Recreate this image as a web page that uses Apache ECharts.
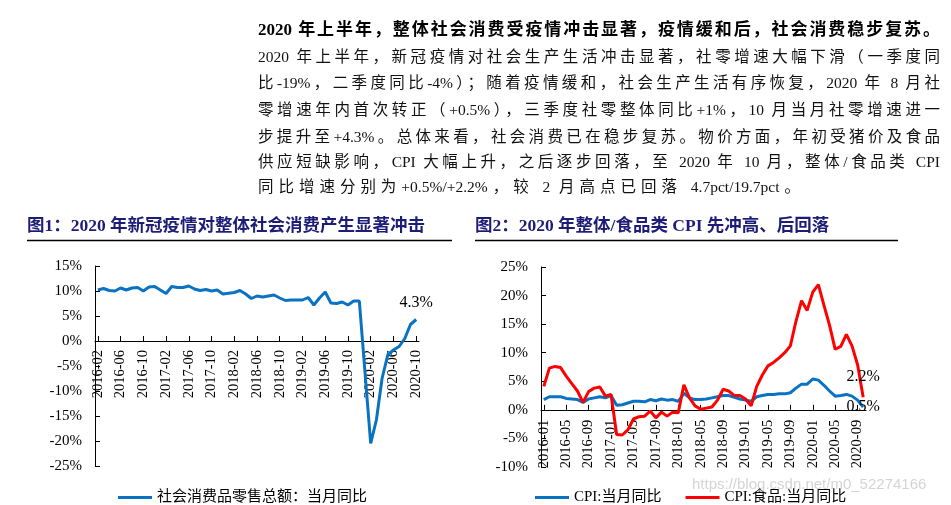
<!DOCTYPE html>
<html>
<head>
<meta charset="utf-8">
<script src="https://cdn.jsdelivr.net/npm/echarts@6/dist/echarts.min.js"></script>
<style>
  html, body { margin: 0; padding: 0; background: #ffffff; }
  #page { position: relative; width: 951px; height: 505px; overflow: hidden; }
  #chart { position: absolute; left: 0; top: 0; width: 951px; height: 505px; }
  .ln { position: absolute; left: 258px; width: 682px; height: 22px; line-height: 22px;
        font-family: "Liberation Serif", "Noto Sans CJK SC", serif; font-size: 15.5px; color: #111;
        white-space: nowrap; letter-spacing: 0; text-align: justify; text-align-last: justify;
        text-justify: inter-character; }
  .head { font-weight: bold; font-size: 17px; color: #000; }
</style>
</head>
<body>
<div id="page">
  <div id="chart"></div>
  <div id="text"></div>
</div>
<script>
// ---------- text content ----------
const headline = '2020 年上半年，整体社会消费受疫情冲击显著，疫情缓和后，社会消费稳步复苏。';
const paraLines = [
  '2020 年上半年，新冠疫情对社会生产生活冲击显著，社零增速大幅下滑（一季度同',
  '比-19%，二季度同比-4%）；随着疫情缓和，社会生产生活有序恢复，2020 年 8 月社',
  '零增速年内首次转正（+0.5%），三季度社零整体同比+1%，10 月当月社零增速进一',
  '步提升至+4.3%。总体来看，社会消费已在稳步复苏。物价方面，年初受猪价及食品',
  '供应短缺影响，CPI 大幅上升，之后逐步回落，至 2020 年 10 月，整体/食品类 CPI',
  '同比增速分别为+0.5%/+2.2%，较 2 月高点已回落 4.7pct/19.7pct。'
];
const title1 = '图1：2020 年新冠疫情对整体社会消费产生显著冲击';
const title2 = '图2：2020 年整体/食品类 CPI 先冲高、后回落';
const watermark = 'https://blog.csdn.net/m0_52274166';

// ---------- chart 1 data: retail sales YoY (%), 2016-02 .. 2020-10, Jan merged into Feb ----------
const retailName = '社会消费品零售总额：当月同比';
const retailYoY = [
  10.2, 10.5, 10.1, 10.0, 10.6, 10.2, 10.6, 10.7, 10.0, 10.8, 10.9,           // 2016-02..12
  null, 9.5, 10.9, 10.7, 10.7, 11.0, 10.4, 10.1, 10.3, 10.0, 10.2, 9.4,        // 2017
  null, 9.7, 10.1, 9.4, 8.5, 9.0, 8.8, 9.0, 9.2, 8.6, 8.1, 8.2,                // 2018
  null, 8.2, 8.7, 7.2, 8.6, 9.8, 7.6, 7.5, 7.8, 7.2, 8.0, 8.0,                 // 2019
  null, -20.5, -15.8, -7.5, -2.8, -1.8, -1.1, 0.5, 3.3, 4.3                    // 2020-01..10
];

// ---------- chart 2 data: CPI YoY (%), 2016-01 .. 2020-10 ----------
const cpiName = 'CPI:当月同比';
const foodName = 'CPI:食品:当月同比';
const cpiYoY = [
  1.8, 2.3, 2.3, 2.3, 2.0, 1.9, 1.8, 1.3, 1.9, 2.1, 2.3, 2.1,   // 2016
  2.5, 0.8, 0.9, 1.2, 1.5, 1.5, 1.4, 1.8, 1.6, 1.9, 1.7, 1.8,   // 2017
  1.5, 2.9, 2.1, 1.8, 1.8, 1.9, 2.1, 2.3, 2.5, 2.5, 2.2, 1.9,   // 2018
  1.7, 1.5, 2.3, 2.5, 2.7, 2.7, 2.8, 2.8, 3.0, 3.8, 4.5, 4.5,   // 2019
  5.4, 5.2, 4.3, 3.3, 2.4, 2.5, 2.7, 2.4, 1.7, 0.5              // 2020
];
const foodYoY = [
  4.1, 7.3, 7.6, 7.4, 5.9, 4.6, 3.3, 1.3, 3.2, 3.8, 4.0, 2.4,          // 2016
  2.7, -4.3, -4.4, -3.5, -1.6, -1.2, -1.1, -0.2, -1.4, -0.4, -1.1, -0.4, // 2017
  -0.5, 4.4, 2.1, 0.7, 0.1, 0.3, 0.5, 1.7, 3.6, 3.3, 2.5, 2.5,         // 2018
  1.9, 0.7, 4.1, 6.1, 7.7, 8.3, 9.1, 10.0, 11.2, 15.5, 19.1, 17.4,     // 2019
  20.6, 21.9, 18.3, 14.8, 10.6, 11.1, 13.2, 11.2, 7.9, 2.2             // 2020
];

// ---------- axis ranges ----------
const y1Min = -25, y1Max = 15;
const y2Min = -10, y2Max = 25;

// ---------- month categories ----------
function monthRange(y0, m0, y1, m1) {
  const out = [];
  let y = y0, m = m0;
  while (y < y1 || (y === y1 && m <= m1)) {
    out.push(y + '-' + (m < 10 ? '0' + m : '' + m));
    m++; if (m > 12) { m = 1; y++; }
  }
  return out;
}
const months1 = monthRange(2016, 2, 2020, 10);
const months2 = monthRange(2016, 1, 2020, 10);

// ---------- HTML text ----------
const textDiv = document.getElementById('text');
function addLine(txt, top, cls, width) {
  const d = document.createElement('div');
  d.className = 'ln ' + cls;
  d.style.top = top + 'px';
  if (width) d.style.width = width + 'px';
  d.textContent = txt;
  textDiv.appendChild(d);
}
addLine(headline, 19, 'head');
const centers = [56.7, 83.3, 110, 136.7, 161.7, 186.7];
paraLines.forEach((t, i) => addLine(t, centers[i] - 11, '', i === paraLines.length - 1 ? 542 : 0));

// ---------- chart ----------
const FONT = '"Liberation Serif", "Noto Sans CJK SC", serif';
const BLUE = '#0a72c2';
const RED = '#ff0000';
const NAVY = '#1d1d78';
const G1 = { left: 95, top: 266, width: 324, height: 200 };
const G2 = { left: 541, top: 267, width: 325, height: 200 };

function withLastLabel(arr, label) {
  return arr.map((v, i) => i === arr.length - 1 ? { value: v, label: Object.assign({ show: true }, label) } : v);
}

// x axis placed on the zero line of its value axis
function xAxisCfg(gi, data, margin, grid, yMin, yMax) {
  const zeroOffset = -(0 - yMin) / (yMax - yMin) * grid.height;
  return {
    type: 'category', gridIndex: gi, data: data, boundaryGap: true, position: 'bottom', offset: zeroOffset,
    axisLine: { onZero: false, lineStyle: { color: '#000', width: 1 } },
    axisTick: { show: true, inside: true, alignWithLabel: true, interval: 3, length: 5, lineStyle: { color: '#000' } },
    axisLabel: { interval: 3, rotate: 90, margin: margin, fontSize: 14.5, color: '#000', fontFamily: FONT },
    splitLine: { show: false }
  };
}
function yAxisCfg(gi, min, max) {
  return {
    type: 'value', gridIndex: gi, min: min, max: max, interval: 5,
    axisLine: { show: true, lineStyle: { color: '#000', width: 1 } },
    axisTick: { show: true, inside: true, length: 5, lineStyle: { color: '#000' } },
    axisLabel: { formatter: '{value}%', margin: 13, fontSize: 15, color: '#000', fontFamily: FONT },
    splitLine: { show: false }
  };
}
function lineSeries(name, xi, data, color, label) {
  return {
    name: name, type: 'line', xAxisIndex: xi, yAxisIndex: xi, connectNulls: true,
    symbol: 'circle', symbolSize: 0.01, showSymbol: true, z: 3,
    lineStyle: { color: color, width: 3 }, itemStyle: { color: color },
    labelLayout: { hideOverlap: false },
    data: withLastLabel(data, Object.assign({ formatter: '{c}%', fontSize: 16, color: '#000', fontFamily: FONT }, label))
  };
}

const chart = echarts.init(document.getElementById('chart'), null, { renderer: 'canvas' });
chart.setOption({
  animation: false,
  backgroundColor: 'transparent',
  title: [
    { text: title1, left: 27, top: 218, padding: 0,
      textStyle: { color: NAVY, fontSize: 17.5, fontWeight: 'bold', fontFamily: FONT } },
    { text: title2, left: 475, top: 218, padding: 0,
      textStyle: { color: NAVY, fontSize: 17.5, fontWeight: 'bold', fontFamily: FONT } }
  ],
  graphic: [
    { type: 'line', shape: { x1: 27, y1: 240.5, x2: 452, y2: 240.5 }, style: { stroke: '#000', lineWidth: 1.5 }, silent: true },
    { type: 'line', shape: { x1: 475, y1: 240.5, x2: 898, y2: 240.5 }, style: { stroke: '#000', lineWidth: 1.5 }, silent: true },
    { type: 'text', x: 692, y: 485, silent: true, z: 100,
      style: { text: watermark, font: '15px "Liberation Sans", sans-serif', fill: 'rgba(170,170,170,0.5)', verticalAlign: 'middle' } }
  ],
  grid: [
    Object.assign({ containLabel: false, outerBoundsMode: 'none' }, G1),
    Object.assign({ containLabel: false, outerBoundsMode: 'none' }, G2)
  ],
  xAxis: [xAxisCfg(0, months1, 9, G1, y1Min, y1Max), xAxisCfg(1, months2, 10, G2, y2Min, y2Max)],
  yAxis: [yAxisCfg(0, y1Min, y1Max), yAxisCfg(1, y2Min, y2Max)],
  legend: [
    { data: [{ name: retailName, icon: 'rect' }], left: 118, top: 490, padding: 0, itemWidth: 34, itemHeight: 3, itemGap: 24,
      textStyle: { fontSize: 15, color: '#000', fontFamily: FONT } },
    { data: [{ name: cpiName, icon: 'rect' }, { name: foodName, icon: 'rect' }], left: 535, top: 490, padding: 0,
      itemWidth: 34, itemHeight: 3, itemGap: 24,
      textStyle: { fontSize: 15, color: '#000', fontFamily: FONT } }
  ],
  series: [
    lineSeries(retailName, 0, retailYoY, BLUE, { position: 'top', distance: 9, offset: [-3, 0] }),
    lineSeries(cpiName, 1, cpiYoY, BLUE, { position: 'inside', offset: [0, 2] }),
    lineSeries(foodName, 1, foodYoY, RED, { position: 'top', distance: 12 })
  ]
});
</script>
</body>
</html>
